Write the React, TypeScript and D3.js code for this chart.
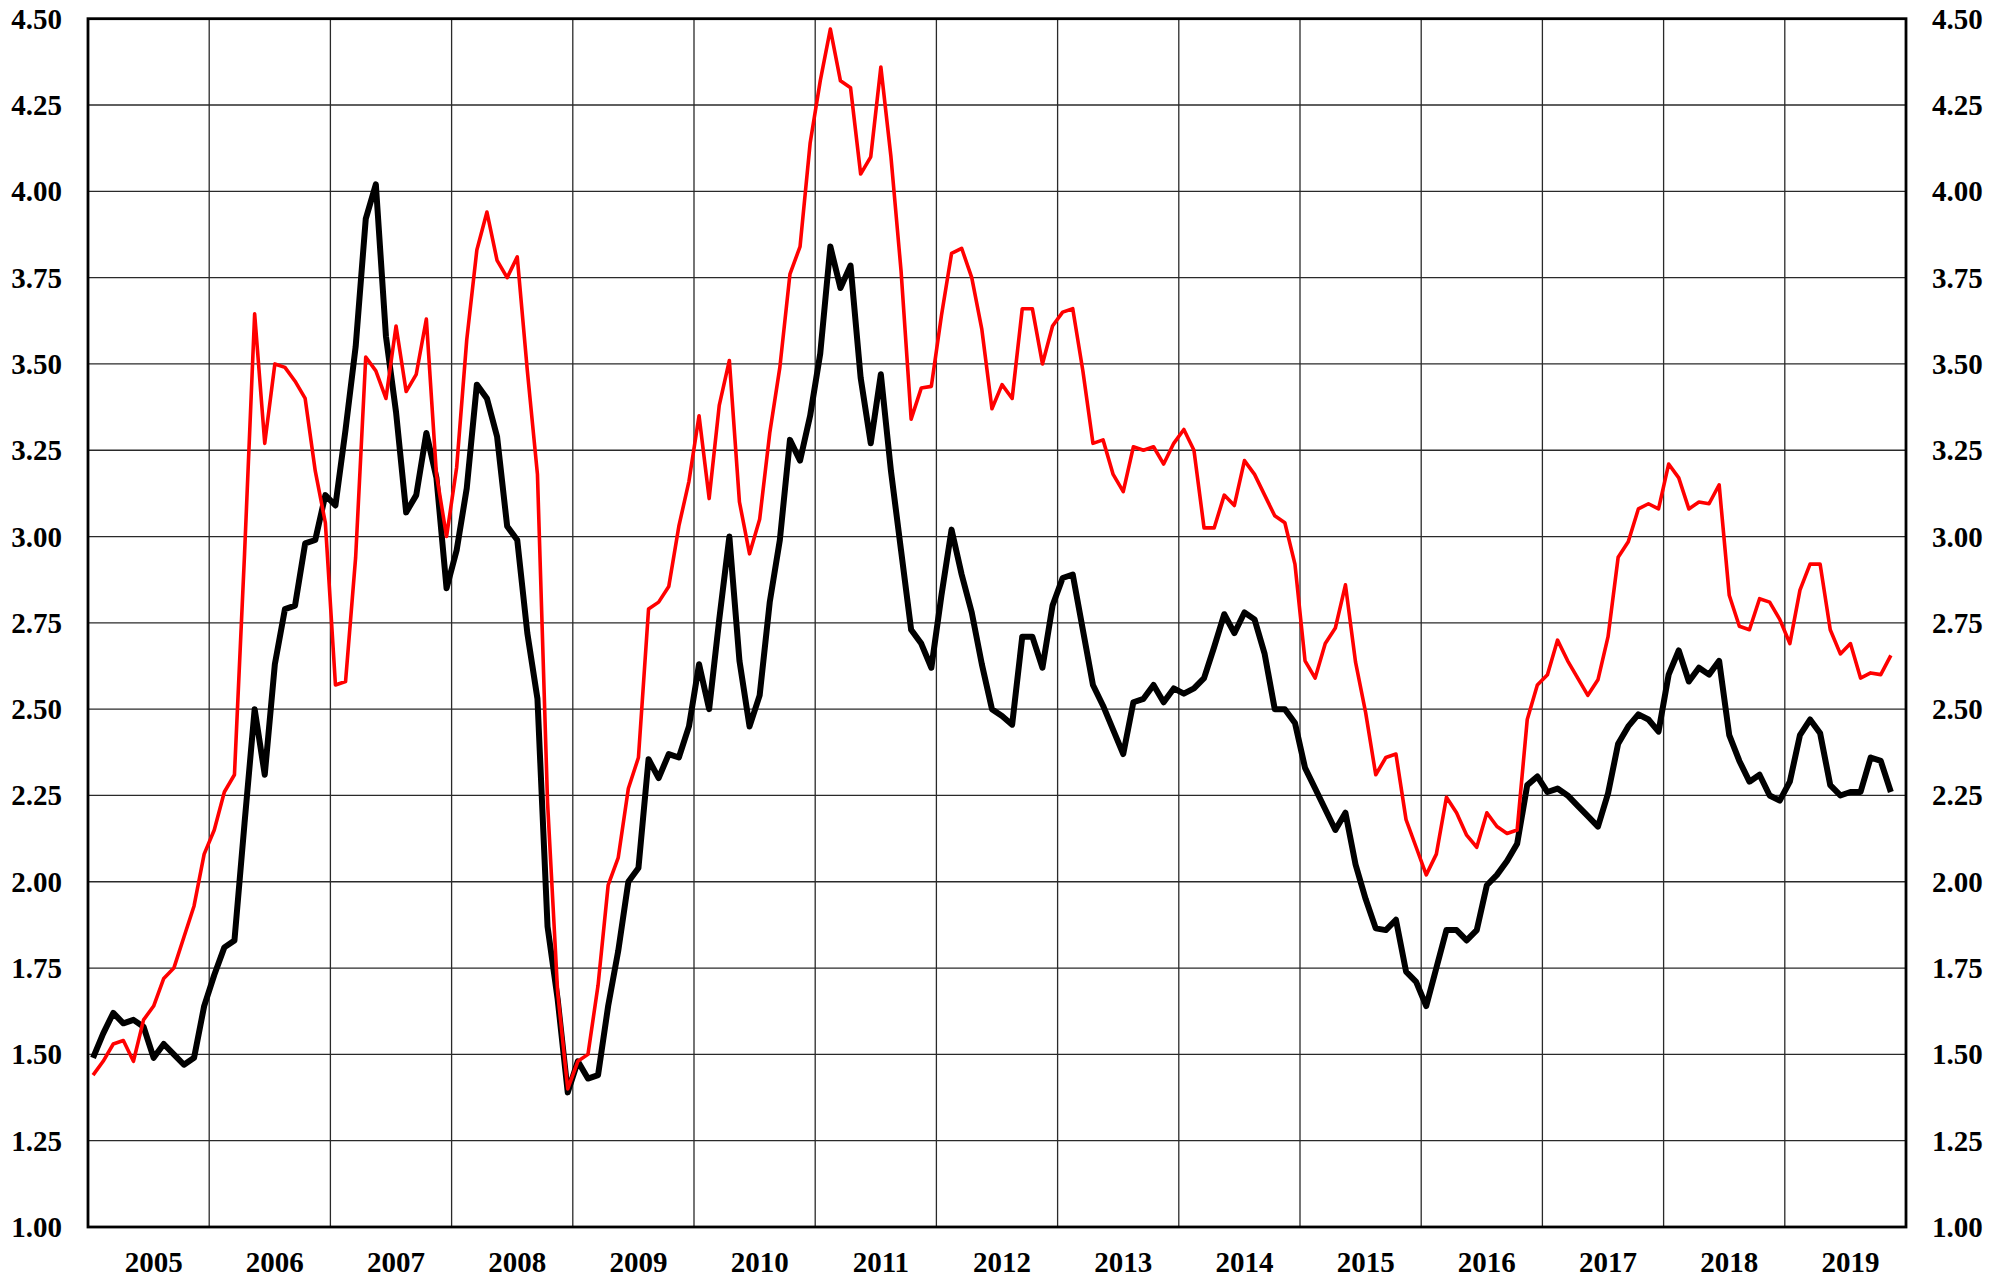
import React from "react";
import * as d3 from "d3";

const years = ["2005","2006","2007","2008","2009","2010","2011","2012","2013","2014","2015","2016","2017","2018","2019"];
const yTicks = [1.0, 1.25, 1.5, 1.75, 2.0, 2.25, 2.5, 2.75, 3.0, 3.25, 3.5, 3.75, 4.0, 4.25, 4.5];

const blackSeries = [
  1.49, 1.56, 1.62, 1.59, 1.60, 1.58, 1.49, 1.53, 1.50, 1.47, 1.49, 1.64,
  1.73, 1.81, 1.83, 2.17, 2.50, 2.31, 2.63, 2.79, 2.80, 2.98, 2.99, 3.12,
  3.09, 3.31, 3.55, 3.92, 4.02, 3.58, 3.36, 3.07, 3.12, 3.30, 3.17, 2.85,
  2.96, 3.14, 3.44, 3.40, 3.29, 3.03, 2.99, 2.72, 2.53, 1.87, 1.66, 1.39,
  1.48, 1.43, 1.44, 1.64, 1.80, 2.00, 2.04, 2.355, 2.30, 2.37, 2.36, 2.45,
  2.63, 2.50, 2.76, 3.00, 2.64, 2.45, 2.54, 2.81, 2.99, 3.28, 3.22, 3.35,
  3.53, 3.84, 3.72, 3.785, 3.46, 3.27, 3.47, 3.19, 2.96, 2.73, 2.69, 2.62,
  2.83, 3.02, 2.89, 2.78, 2.63, 2.50, 2.48, 2.455, 2.71, 2.71, 2.62, 2.80,
  2.88, 2.89, 2.73, 2.57, 2.51, 2.44, 2.37, 2.52, 2.53, 2.57, 2.52, 2.56,
  2.545, 2.56, 2.59, 2.68, 2.775, 2.72, 2.78, 2.76, 2.66, 2.50, 2.50, 2.46,
  2.33, 2.27, 2.21, 2.15, 2.20, 2.05, 1.95, 1.865, 1.86, 1.89, 1.74, 1.71,
  1.64, 1.75, 1.86, 1.86, 1.83, 1.86, 1.99, 2.02, 2.06, 2.11, 2.28, 2.305,
  2.26, 2.27, 2.25, 2.22, 2.19, 2.16, 2.256, 2.40, 2.45, 2.485, 2.47, 2.435,
  2.60, 2.67, 2.58, 2.62, 2.60, 2.64, 2.425, 2.35, 2.29, 2.31, 2.25, 2.235,
  2.29, 2.425, 2.47, 2.43, 2.28, 2.25, 2.26, 2.26, 2.36, 2.35, 2.26,
];

const redSeries = [
  1.44, 1.48, 1.53, 1.54, 1.48, 1.60, 1.64, 1.72, 1.75, 1.84, 1.93, 2.08,
  2.15, 2.26, 2.31, 2.95, 3.645, 3.27, 3.50, 3.49, 3.45, 3.40, 3.19, 3.04,
  2.57, 2.58, 2.94, 3.52, 3.48, 3.40, 3.61, 3.42, 3.47, 3.63, 3.18, 3.00,
  3.20, 3.57, 3.83, 3.94, 3.80, 3.75, 3.81, 3.48, 3.18, 2.23, 1.68, 1.40,
  1.48, 1.50, 1.70, 1.99, 2.07, 2.27, 2.36, 2.79, 2.81, 2.855, 3.03, 3.16,
  3.35, 3.11, 3.38, 3.51, 3.10, 2.95, 3.05, 3.30, 3.49, 3.76, 3.84, 4.14,
  4.32, 4.47, 4.32, 4.30, 4.05, 4.10, 4.36, 4.10, 3.77, 3.34, 3.43, 3.435,
  3.64, 3.82, 3.835, 3.75, 3.60, 3.37, 3.44, 3.40, 3.66, 3.66, 3.50, 3.61,
  3.65, 3.66, 3.48, 3.27, 3.28, 3.18, 3.13, 3.26, 3.25, 3.26, 3.21, 3.27,
  3.31, 3.25, 3.025, 3.025, 3.12, 3.09, 3.22, 3.18, 3.12, 3.06, 3.04, 2.92,
  2.64, 2.59, 2.69, 2.735, 2.86, 2.636, 2.49, 2.31, 2.36, 2.37, 2.18, 2.10,
  2.02, 2.08, 2.245, 2.20, 2.135, 2.10, 2.20, 2.16, 2.14, 2.15, 2.47, 2.57,
  2.60, 2.70, 2.64, 2.59, 2.54, 2.585, 2.71, 2.94, 2.985, 3.08, 3.095, 3.08,
  3.21, 3.17, 3.08, 3.10, 3.095, 3.15, 2.83, 2.74, 2.73, 2.82, 2.81, 2.76,
  2.69, 2.845, 2.92, 2.92, 2.73, 2.66, 2.69, 2.59, 2.605, 2.60, 2.656,
];

const W = 2007;
const H = 1278;
const M = { left: 88, right: 1906, top: 18.7, bottom: 1227 };
const FONT = "'Liberation Serif', 'Times New Roman', serif";

export default function App() {
  const nMonths = years.length * 12;
  const x = d3.scaleLinear().domain([0, nMonths]).range([M.left, M.right]);
  const y = d3.scaleLinear().domain([1, 4.5]).range([M.bottom, M.top]);

  const line = d3
    .line<number>()
    .x((_, i) => x(i + 0.5))
    .y((d) => y(d));

  const yearBounds = d3.range(1, years.length).map((k) => k * 12);

  return (
    <svg
      width={W}
      height={H}
      style={{ position: "absolute", left: 0, top: 0, background: "#fff" }}
    >
      <rect x={0} y={0} width={W} height={H} fill="#fff" />
      {yTicks.map((t) => (
        <line
          key={"h" + t}
          x1={M.left}
          x2={M.right}
          y1={y(t)}
          y2={y(t)}
          stroke="#2a2a2a"
          strokeWidth={1.3}
        />
      ))}
      {yearBounds.map((m) => (
        <line
          key={"v" + m}
          x1={x(m)}
          x2={x(m)}
          y1={M.top}
          y2={M.bottom}
          stroke="#2a2a2a"
          strokeWidth={1.3}
        />
      ))}
      <path
        d={line(blackSeries) || ""}
        fill="none"
        stroke="#000"
        strokeWidth={6}
        strokeLinejoin="round"
      />
      <path
        d={line(redSeries) || ""}
        fill="none"
        stroke="#ff0000"
        strokeWidth={3.6}
        strokeLinejoin="round"
      />
      <rect
        x={M.left}
        y={M.top}
        width={M.right - M.left}
        height={M.bottom - M.top}
        fill="none"
        stroke="#000"
        strokeWidth={2.8}
      />
      {yTicks.map((t) => (
        <text
          key={"l" + t}
          x={M.left - 26}
          y={y(t)}
          textAnchor="end"
          dominantBaseline="central"
          fontFamily={FONT}
          fontWeight="bold"
          fontSize={29}
        >
          {t.toFixed(2)}
        </text>
      ))}
      {yTicks.map((t) => (
        <text
          key={"r" + t}
          x={M.right + 26}
          y={y(t)}
          textAnchor="start"
          dominantBaseline="central"
          fontFamily={FONT}
          fontWeight="bold"
          fontSize={29}
        >
          {t.toFixed(2)}
        </text>
      ))}
      {years.map((yr, k) => (
        <text
          key={"x" + yr}
          x={x(k * 12 + 6.5)}
          y={1272}
          textAnchor="middle"
          fontFamily={FONT}
          fontWeight="bold"
          fontSize={29}
        >
          {yr}
        </text>
      ))}
    </svg>
  );
}
